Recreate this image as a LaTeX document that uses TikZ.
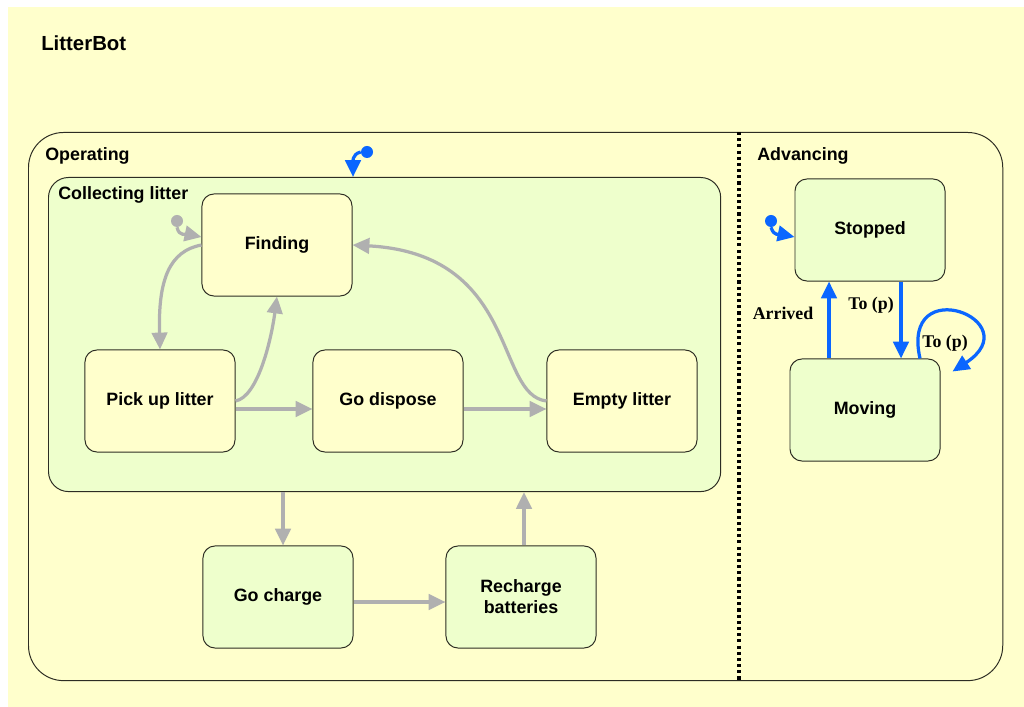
\documentclass[tikz,border=0pt]{standalone}
\usepackage{fontspec}
\setmainfont{Liberation Sans}
\newfontfamily\labelserif{Liberation Serif}
\usetikzlibrary{arrows.meta,calc}
\definecolor{paleyellow}{RGB}{255,255,204}
\definecolor{palegreen}{RGB}{238,255,204}
\definecolor{linkgray}{RGB}{176,176,176}
\definecolor{linkblue}{RGB}{10,102,255}
\definecolor{framecol}{RGB}{45,45,35}

\begin{document}
\begin{tikzpicture}[x=0.025cm,y=-0.025cm,
  txt/.style={font=\fontsize{12.7}{15}\selectfont\bfseries},
  region/.style={draw=framecol, line width=0.7pt, inner sep=0pt, anchor=north west},
  statebox/.style={draw=framecol, line width=0.7pt, rounded corners=0.3cm,
    minimum width=3.75cm, minimum height=2.55cm, inner sep=0pt, align=center, txt},
  yellowstate/.style={statebox, fill=paleyellow},
  greenstate/.style={statebox, fill=palegreen},
  heading/.style={txt, anchor=west, inner sep=0pt},
  initdot/.style={circle, inner sep=0pt, minimum size=0.3cm},
  tip/.style={-{Triangle[length=12pt,width=11pt]}},
  graylink/.style={tip, draw=linkgray, line width=2.3pt},
  bluelink/.style={tip, draw=linkblue, line width=2.3pt},
  guard/.style={font=\labelserif\fontsize{12.7}{15}\selectfont\bfseries, inner sep=0pt},
  divider/.style={draw=black, line width=2.2pt, dash pattern=on 2.2pt off 2.2pt}
]
% canvas
\fill[white] (0,0) rectangle (1024,707);
\fill[paleyellow] (8,7) rectangle (1024,707);
\useasboundingbox (0,0) rectangle (1024,707);

\node[heading, font=\fontsize{14.5}{17}\selectfont\bfseries] (title) at (41,43) {LitterBot};

% concurrent superstate
\node[region, fill=paleyellow, rounded corners=0.875cm,
      minimum width=24.35cm, minimum height=13.7cm] (outer) at (28,132) {};
\draw[divider] ($(outer.north west)+(711,0)$) -- ($(outer.south west)+(711,0)$);
\node[heading] (operating) at (45,156) {Operating};
\node[heading] (advancing) at (757,156) {Advancing};

% collecting litter composite state
\node[region, fill=palegreen, rounded corners=0.5cm,
      minimum width=16.8cm, minimum height=7.85cm] (collecting) at (48,177) {};
\node[heading] (collectlabel) at (58,195) {Collecting litter};

% states
\node[yellowstate] (finding) at (277,245) {Finding};
\node[yellowstate] (pick) at (160,401) {Pick up litter};
\node[yellowstate] (dispose) at (388,401) {Go dispose};
\node[yellowstate] (empty) at (622,401) {Empty litter};
\node[greenstate] (charge) at (278,597) {Go charge};
\node[greenstate] (recharge) at (521,597) {Recharge\\batteries};
\node[greenstate] (stopped) at (870,230) {Stopped};
\node[greenstate] (moving) at (865,410) {Moving};

% initial pseudo-states
\node[initdot, fill=linkgray] (grayinit) at (177,221) {};
\node[initdot, fill=linkblue] (collectinit) at (367,152) {};
\node[initdot, fill=linkblue] (advinit) at (771,221) {};

% transitions inside Collecting litter
\draw[graylink] (grayinit.south) .. controls +(2,10) and +(-14,-3) .. ($(finding.west)+(0,-8)$);
\draw[graylink] (finding.west) .. controls +(-32,6) and +(-2,-70) .. (pick.north);
\draw[graylink] (pick.east) .. controls +(22,-4) and +(-6,45) .. (finding.south);
\draw[graylink] ($(pick.east)+(0,8)$) -- ($(dispose.west)+(0,8)$);
\draw[graylink] ($(dispose.east)+(0,8)$) -- ($(empty.west)+(0,8)$);
\draw[graylink] (empty.west) .. controls +(-52,-6) and +(167,9) .. (finding.east);

% charging cycle
\coordinate (chargein) at ($(charge.north)+(5,0)$);
\coordinate (rechargeout) at ($(recharge.north)+(3,0)$);
\draw[graylink] (collecting.south -| chargein) -- (chargein);
\draw[graylink] ($(charge.east)+(0,5)$) -- ($(recharge.west)+(0,5)$);
\draw[graylink] (rechargeout) -- (collecting.south -| rechargeout);

% blue transitions
\draw[bluelink] (collectinit.west) .. controls +(-9,2) and +(0,-14) .. ($(collecting.north west)+(305,0)$);
\draw[bluelink] (advinit.south) .. controls +(3,10) and +(-14,-3) .. ($(stopped.west)+(0,7)$);

\coordinate (arrivedfoot) at ($(moving.north)+(-36,0)$);
\draw[bluelink] (arrivedfoot) -- (stopped.south -| arrivedfoot);
\node[guard] (arrived) at (783,313) {Arrived};

\coordinate (toptop) at ($(stopped.south)+(31,0)$);
\draw[bluelink] (toptop) -- (moving.north -| toptop);
\node[guard] (tolabel) at (871,305) {To (p)};

\coordinate (loopstart) at ($(moving.north)+(55,0)$);
\coordinate (loopend) at ($(moving.north east)+(12,13)$);
\draw[bluelink] (loopstart) .. controls +(-20,-88) and +(78,-51) .. (loopend);
\node[guard] (looplabel) at (945,343) {To (p)};
\end{tikzpicture}
\end{document}
